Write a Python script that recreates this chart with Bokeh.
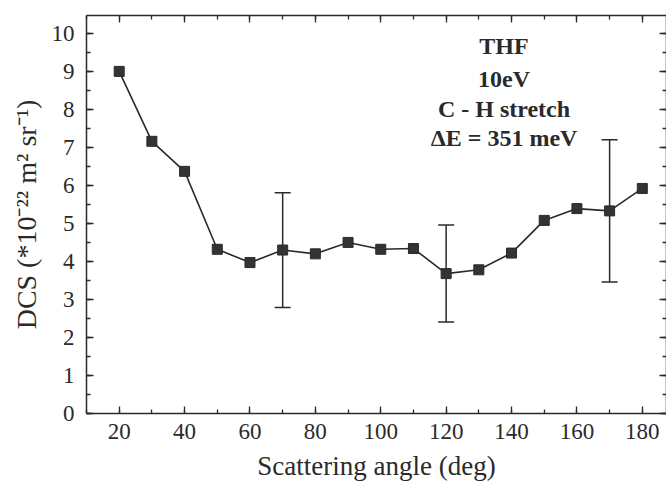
from bokeh.plotting import figure
from bokeh.models import (ColumnDataSource, Range1d, LinearAxis, Whisker, TeeHead,
                          SingleIntervalTicker, Label, CustomLabelingPolicy)
from bokeh.embed import file_html
from bokeh.resources import INLINE

# ---- data ----
angle = [20, 30, 40, 50, 60, 70, 80, 90, 100, 110, 120, 130, 140, 150, 160, 170, 180]
dcs = [9.0, 7.16, 6.37, 4.32, 3.97, 4.3, 4.2, 4.5, 4.32, 4.34, 3.68, 3.78, 4.22, 5.08, 5.39, 5.33, 5.92]
err_angle = [70, 120, 170]
err_low = [2.79, 2.41, 3.46]
err_high = [5.81, 4.96, 7.2]
annot = ["THF", "10eV", "C - H stretch", "\u0394E = 351 meV"]

INK = "#2a2a2a"
FONT = "Liberation Serif"

p = figure(width=666, height=483, x_range=Range1d(10, 187.4), y_range=Range1d(0, 10.47),
           output_backend="svg", toolbar_location=None,
           min_border_left=86, min_border_top=15, min_border_right=0, min_border_bottom=69)
p.background_fill_color = "white"
p.border_fill_color = "white"
p.grid.visible = False
p.outline_line_color = None

xt = SingleIntervalTicker(interval=20, num_minor_ticks=2)
yt = SingleIntervalTicker(interval=1, num_minor_ticks=2)

def style_axis(ax, labels=True):
    ax.axis_line_color = INK
    ax.axis_line_width = 1.5
    ax.major_tick_line_color = INK
    ax.minor_tick_line_color = INK
    ax.major_tick_line_width = 1.3
    ax.minor_tick_line_width = 1.3
    ax.major_tick_in = 7
    ax.major_tick_out = 0
    ax.minor_tick_in = 4
    ax.minor_tick_out = 0
    if labels:
        ax.major_label_text_font = FONT
        ax.major_label_text_font_size = "23px"
        ax.major_label_text_color = INK
        ax.axis_label_text_font = FONT
        ax.axis_label_text_font_size = "27px"
        ax.axis_label_text_font_style = "normal"
        ax.axis_label_text_color = INK
    else:
        ax.major_label_text_font_size = "0px"
        ax.major_label_standoff = 0
        ax.major_label_policy = CustomLabelingPolicy(
            code="for (const i of indices) { indices.unset(i) } return indices")

p.xaxis.ticker = xt
p.yaxis.ticker = yt
style_axis(p.xaxis[0])
style_axis(p.yaxis[0])
p.xaxis.axis_label = "Scattering angle (deg)"
p.yaxis.axis_label = "DCS (*10\u207b\u00b2\u00b2 m\u00b2 sr\u207b\u00b9)"
p.yaxis.axis_label_text_font_size = "28px"
p.xaxis.major_label_standoff = 10
p.yaxis.major_label_standoff = 12
p.xaxis.axis_label_standoff = 9
p.yaxis.axis_label_standoff = 7

top = LinearAxis(ticker=xt)
style_axis(top, labels=False)
p.add_layout(top, "above")
right = LinearAxis(ticker=yt)
style_axis(right, labels=False)
p.add_layout(right, "right")

src = ColumnDataSource(dict(x=angle, y=dcs))
esrc = ColumnDataSource(dict(x=err_angle, lo=err_low, hi=err_high))

p.add_layout(Whisker(source=esrc, base="x", lower="lo", upper="hi", dimension="height",
                     line_color=INK, line_width=1.5,
                     upper_head=TeeHead(size=16, line_color=INK, line_width=1.5),
                     lower_head=TeeHead(size=16, line_color=INK, line_width=1.5)))
p.line("x", "y", source=src, line_color=INK, line_width=1.6)
p.scatter("x", "y", source=src, marker="square", size=10, fill_color="#333333", line_color=INK)

ys = [9.68, 8.79, 8.0, 7.25]
for t, yy in zip(annot, ys):
    p.add_layout(Label(x=137.7, y=yy, text=t, text_align="center", text_baseline="alphabetic",
                       text_font=FONT, text_font_style="bold", text_font_size="24px",
                       text_color=INK))

open("out.html", "w").write(file_html(p, INLINE))
